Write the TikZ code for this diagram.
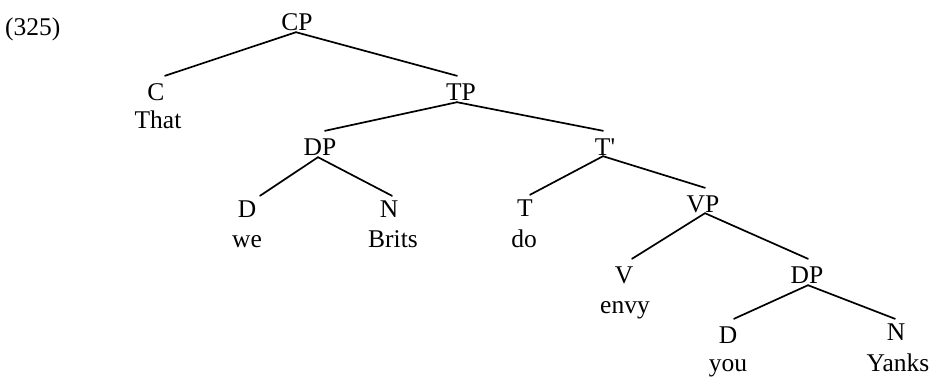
\documentclass[tikz,border=0pt]{standalone}
\usepackage{fontspec}
\setmainfont{Liberation Serif}[Ligatures=TeXOff]
\begin{document}
\begin{tikzpicture}[x=1pt,y=-1pt,
  cat/.style={anchor=base,inner sep=0pt,text height=24pt,text depth=2pt,font=\fontsize{25.5}{30}\selectfont},
  word/.style={anchor=base,inner sep=0pt,font=\fontsize{25.5}{30}\selectfont},
  branch/.style={line width=1.7pt,line cap=round}]
\useasboundingbox (0,0) rectangle (932,376);
\node[word,anchor=base west] (ex) at (5,35) {(325)};
% categories
\node[cat] (CP) at (297,30) {CP};
\node[cat] (C) at (156,100) {C};
\node[cat] (TP) at (461,100) {TP};
\node[cat] (DP1) at (320,155) {DP};
\node[cat] (Tbar) at (605,155) {T'};
\node[cat] (D1) at (247,217) {D};
\node[cat] (N1) at (389,217) {N};
\node[cat] (T) at (525,216) {T};
\node[cat] (VP) at (703,212) {VP};
\node[cat] (V) at (624,283) {V};
\node[cat] (DP2) at (807,283) {DP};
\node[cat] (D2) at (728,343) {D};
\node[cat] (N2) at (896,340) {N};
% words
\node[word] (w1) at (158,128) {That};
\node[word] (w2) at (247,247) {we};
\node[word] (w3) at (393,247) {Brits};
\node[word] (w4) at (524,247) {do};
\node[word] (w5) at (625,313) {envy};
\node[word] (w6) at (728,371) {you};
\node[word] (w7) at (898,371) {Yanks};
% branches
\draw[branch] ([xshift=-1pt]CP.south) -- ([xshift=9pt]C.north);
\draw[branch] ([xshift=-1pt]CP.south) -- ([xshift=-4pt]TP.north);
\draw[branch] ([xshift=-4pt]TP.south) -- ([xshift=5pt]DP1.north);
\draw[branch] ([xshift=-4pt]TP.south) -- ([xshift=-2pt]Tbar.north);
\draw[branch] ([xshift=-2pt]DP1.south) -- ([xshift=13pt,yshift=-3pt]D1.north);
\draw[branch] ([xshift=-2pt]DP1.south) -- ([xshift=3pt,yshift=-3pt]N1.north);
\draw[branch] ([xshift=-2pt,yshift=1pt]Tbar.south) -- ([xshift=5pt,yshift=-3pt]T.north);
\draw[branch] ([xshift=-2pt,yshift=1pt]Tbar.south) -- ([xshift=2pt]VP.north);
\draw[branch] ([xshift=2pt,yshift=1pt]VP.south) -- ([xshift=8pt]V.north);
\draw[branch] ([xshift=2pt,yshift=1pt]VP.south) -- ([xshift=1pt]DP2.north);
\draw[branch] ([xshift=1pt]DP2.south) -- ([xshift=6pt]D2.north);
\draw[branch] ([xshift=1pt]DP2.south) -- ([xshift=-1pt,yshift=-3pt]N2.north);
\end{tikzpicture}
\end{document}
